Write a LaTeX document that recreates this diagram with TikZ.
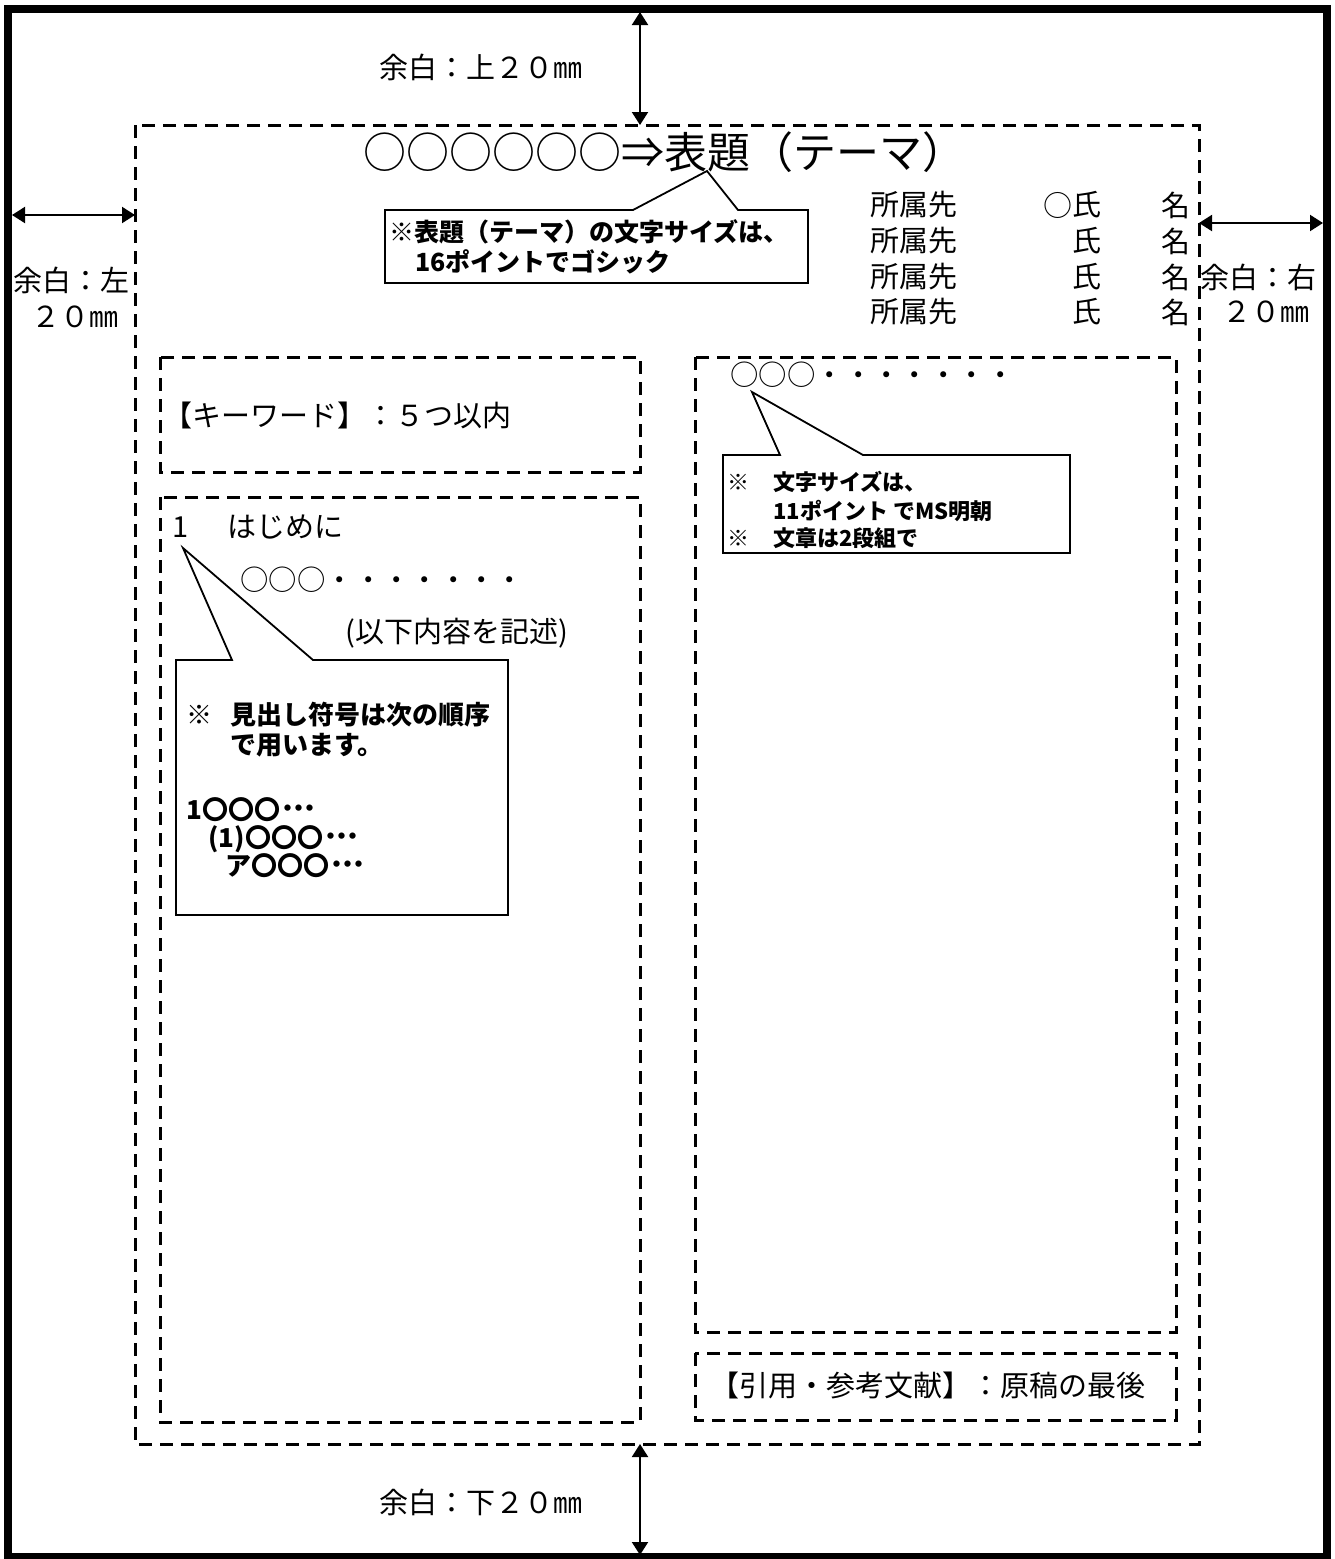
\documentclass[tikz,border=0pt]{standalone}
\usepackage{fontspec}
\setmainfont{Noto Sans CJK JP}
\usetikzlibrary{arrows.meta}
\tikzset{
  pageframe/.style={line width=4pt},
  dashbox/.style={line width=1.5pt, dash pattern=on 6.5pt off 4pt},
  dimarrow/.style={line width=1pt, {Triangle[length=6.5pt,width=8pt]}-{Triangle[length=6.5pt,width=8pt]}},
  body/.style={inner sep=0pt, font=\fontsize{14.5pt}{17pt}\selectfont},
  dotline/.style={inner sep=0pt, anchor=west, font=\fontsize{14.2pt}{17pt}\selectfont},
  titletext/.style={inner sep=0pt, font=\fontsize{21.5pt}{25pt}\selectfont},
  callout/.style={line width=0.9pt, fill=white, line join=miter},
  calltext/.style={inner sep=0pt, anchor=west, font=\bfseries\fontsize{12.5pt}{15pt}\selectfont},
  leftcall/.style={inner sep=0pt, anchor=west, text height=10pt, text depth=2.5pt, font=\bfseries\fontsize{13pt}{15pt}\selectfont},
  callsmall/.style={inner sep=0pt, anchor=west, font=\bfseries\fontsize{11pt}{13pt}\selectfont},
}
\newcommand{\bdots}{{\fontsize{15pt}{15pt}\selectfont ･\kern-2pt･\kern-2pt･}}
\begin{document}
\begin{tikzpicture}[x=0.5pt,y=-0.5pt]
\useasboundingbox (0,0) rectangle (1334,1559);
% page frame
\draw[pageframe] (8,8.5) rectangle (1327,1557);
% dashed layout boxes
\draw[dashbox] (135,125) rectangle (1199,1444);
\draw[dashbox] (160,357) rectangle (640,472);
\draw[dashbox] (160,497) rectangle (640,1422);
\draw[dashbox] (695,357) rectangle (1176,1332);
\draw[dashbox] (695,1353) rectangle (1176,1420);
% margin arrows
\coordinate (topA) at (640,12);
\coordinate (topB) at (640,125);
\coordinate (botA) at (640,1444);
\coordinate (botB) at (640,1555);
\coordinate (lefA) at (12,215);
\coordinate (lefB) at (135,215);
\coordinate (rigA) at (1199,223);
\coordinate (rigB) at (1323,223);
\draw[dimarrow] (topA) -- (topB);
\draw[dimarrow] (botA) -- (botB);
\draw[dimarrow] (lefA) -- (lefB);
\draw[dimarrow] (rigA) -- (rigB);
% margin labels
\node[body] (mtop) at (481,67) {余白：上２０㎜};
\node[body] (mbot) at (481,1502) {余白：下２０㎜};
\node[body] (mleft1) at (71,280) {余白：左};
\node[body] (mleft2) at (75,317) {２０㎜};
\node[body] (mright1) at (1258,277) {余白：右};
\node[body] (mright2) at (1266,312) {２０㎜};
% title
\node[titletext] (title) at (664,152) {○○○○○○⇒表題（テーマ）};
% affiliations
\foreach \yy/\nm in {205/a,241/b,277/c,312/d}{
  \node[body, anchor=west] (aff\nm) at (870,\yy) {所属先};
  \node[body] (shi\nm) at (1087,\yy) {氏};
  \node[body] (mei\nm) at (1176,\yy) {名};
}
\node[body] (circ) at (1058,205) {○};
% title callout
\draw[callout] (385,210) -- (633,210) -- (707,171) -- (738,210) -- (808,210) -- (808,283) -- (385,283) -- cycle;
\node[calltext] (ct1) at (389,232) {※表題（テーマ）の文字サイズは、};
\node[calltext] (ct2) at (415,262) {16ポイントでゴシック};
% left column
\node[body, anchor=west] (kw) at (163,415) {【キーワード】：５つ以内};
\node[body, anchor=west] (h1) at (172,527) {1\hspace{19.5pt}はじめに};
\node[dotline] (ldots) at (240,580) {○○○・・・・・・・};
\node[body, anchor=west] (desc) at (345,633) {(以下内容を記述)};
\draw[callout] (176,660) -- (232,660) -- (183,548) -- (313,660) -- (508,660) -- (508,915) -- (176,915) -- cycle;
\node[leftcall] (lc1a) at (186,717) {※};
\node[leftcall] (lc1b) at (230,717) {見出し符号は次の順序};
\node[leftcall] (lc2) at (230,747) {で用います。};
\node[leftcall] (lc3) at (186,812) {1〇〇〇\bdots};
\node[leftcall] (lc4) at (208,840) {(1)〇〇〇\bdots};
\node[leftcall] (lc5) at (225,868) {ア〇〇〇\bdots};
% right column
\node[dotline] (rdots) at (730,375) {○○○・・・・・・・};
\draw[callout] (723,455) -- (780,455) -- (752,392) -- (863,455) -- (1070,455) -- (1070,553) -- (723,553) -- cycle;
\node[callsmall] (rc1a) at (727,482) {※};
\node[callsmall] (rc1b) at (773,482) {文字サイズは、};
\node[callsmall] (rc2) at (773,511) {11ポイント でMS明朝};
\node[callsmall] (rc3a) at (727,538) {※};
\node[callsmall] (rc3b) at (773,538) {文章は2段組で};
\node[body, anchor=west] (refs) at (710,1385) {【引用・参考文献】：原稿の最後};
\end{tikzpicture}
\end{document}
